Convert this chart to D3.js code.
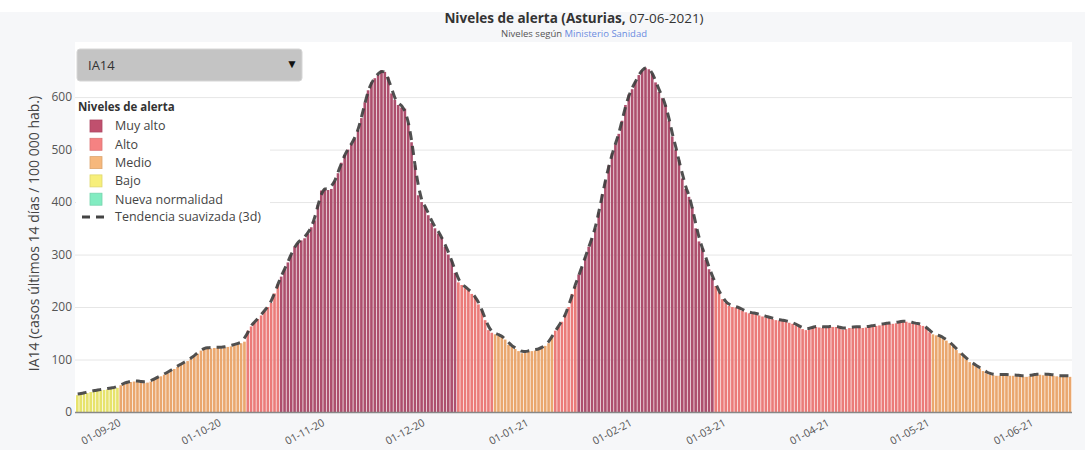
<!DOCTYPE html>
<html>
<head>
<meta charset="utf-8">
<script src="https://cdn.jsdelivr.net/npm/d3@7/dist/d3.min.js"></script>
<style>
  body { margin: 0; background: #fff; font-family: "Open Sans", sans-serif; }
  svg text { font-family: "Open Sans", sans-serif; }
</style>
</head>
<body>
<svg id="chart" width="1085" height="450"></svg>
<script>
// --- data (IA14, Asturias) ---
var firstDay = "2020-08-13";
var ia14 = [
  32,33,35,36,38,39,40,41,42,43,44,45,46,
  51,53,55,57,58,57,56,55,
  56,58,61,65,68,71,74,78,82,86,
  90,93,97,101,106,111,117,120,121,121,
  122,122,121,122,124,125,127,129,131,134,
  155,163,170,177,184,192,200,208,226,244,
  258,272,285,300,315,322,327,331,340,352,
  365,395,422,424,423,425,440,455,475,490,
  500,510,520,537,560,590,613,628,636,642,
  651,648,638,607,595,585,580,578,550,514,
  470,413,400,392,375,360,350,340,333,315,
  300,289,265,247,242,236,232,225,219,205,
  194,175,156,151,148,145,143,138,128,124,
  120,116,112,113,115,116,117,118,121,126,
  131,142,155,162,172,185,200,225,240,262,
  276,295,315,331,350,380,415,440,470,493,
  510,530,555,585,605,615,630,642,651,656,
  653,645,628,610,598,585,555,525,500,480,
  445,425,410,390,350,325,312,290,272,256,
  240,228,215,208,202,200,199,197,193,190,
  188,187,186,184,182,180,179,177,175,174,
  173,172,170,168,165,162,158,156,157,160,
  162,161,160,160,161,162,162,160,157,158,
  160,160,160,161,160,161,162,162,164,165,
  166,167,168,168,169,170,171,172,170,168,
  167,166,164,160,152,148,146,143,140,136,
  131,125,118,112,106,100,95,90,86,83,
  78,74,71,70,69,69,70,69,69,69,
  68,68,67,67,68,69,70,71,70,70,
  70,69,68,67,67,67,67
];
var levelNames = ["Muy alto", "Alto", "Medio", "Bajo", "Nueva normalidad"];
var levelMins  = [250, 150, 50, 25, 0];
var yTicks = [0, 100, 200, 300, 400, 500, 600];
var xTickDates = ["2020-09-01","2020-10-01","2020-11-01","2020-12-01","2021-01-01",
                  "2021-02-01","2021-03-01","2021-04-01","2021-05-01","2021-06-01"];

var barColors    = ["#ad4f6d", "#eb7b79", "#eaa76e", "#e7e36c", "#7fe3bb"];
var legendColors = ["#c0506e", "#f58282", "#f6b87c", "#f7ef7a", "#82ecc1"];

var parse = d3.timeParse("%Y-%m-%d");
var start = parse(firstDay);
var days = ia14.map(function(v, i) { return { date: d3.timeDay.offset(start, i), v: v, i: i }; });

function level(v) {
  for (var k = 0; k < levelMins.length; k++) if (v >= levelMins[k]) return k;
  return levelMins.length - 1;
}

// 3 day smoothed trend
days.forEach(function(d, i) {
  d.s = d3.mean(ia14.slice(Math.max(0, i - 1), Math.min(ia14.length, i + 2)));
});

var svg = d3.select("#chart");
var width = 1085, height = 450;
var margin = {left: 75, right: 13, top: 42, bottom: 38};

svg.append("rect").attr("x", 0).attr("y", 12).attr("width", width).attr("height", height - 12)
  .attr("fill", "#f6f7f9");
svg.append("rect").attr("x", margin.left).attr("y", margin.top)
  .attr("width", width - margin.left - margin.right)
  .attr("height", height - margin.top - margin.bottom)
  .attr("fill", "#fff");

var x = d3.scaleTime()
  .domain([start, d3.timeDay.offset(start, ia14.length)])
  .range([margin.left + 1, width - margin.right]);
var y = d3.scaleLinear()
  .domain([0, 705])
  .range([height - margin.bottom, margin.top]);

// grid
svg.append("g").selectAll("line").data(yTicks.slice(1)).enter().append("line")
  .attr("x1", margin.left).attr("x2", width - margin.right)
  .attr("y1", function(d) { return y(d) + 0.5; })
  .attr("y2", function(d) { return y(d) + 0.5; })
  .attr("stroke", "#e6e6e6").attr("stroke-width", 1);

// y axis labels
svg.append("g").selectAll("text").data(yTicks).enter().append("text")
  .attr("x", 72).attr("y", function(d) { return y(d); })
  .attr("dy", "0.35em").attr("text-anchor", "end")
  .attr("font-size", 12).attr("fill", "#555")
  .text(function(d) { return d; });

svg.append("text")
  .attr("transform", "translate(39," + y(340) + ") rotate(-90)")
  .attr("text-anchor", "middle").attr("font-size", 14).attr("fill", "#444")
  .text("IA14 (casos últimos 14 días / 100 000 hab.)");

// bars
svg.append("g").selectAll("rect").data(days).enter().append("rect")
  .attr("x", function(d) { return x(d.date); })
  .attr("width", function(d) { return x(d3.timeDay.offset(d.date, 1)) - x(d.date) - 0.7; })
  .attr("y", function(d) { return y(d.v); })
  .attr("height", function(d) { return y(0) - y(d.v); })
  .attr("fill", function(d) { return barColors[level(d.v)]; });

// trend
var line = d3.line()
  .x(function(d) { return x(d3.timeHour.offset(d.date, 12)); })
  .y(function(d) { return y(d.s) - 1; })
  .curve(d3.curveMonotoneX);
svg.append("path").datum(days)
  .attr("d", line)
  .attr("fill", "none").attr("stroke", "#3d3d3d")
  .attr("stroke-width", 3).attr("stroke-dasharray", "9,6")
  .attr("opacity", 0.9);

// x axis
svg.append("line")
  .attr("x1", margin.left).attr("x2", width - margin.right)
  .attr("y1", y(0) + 0.5).attr("y2", y(0) + 0.5)
  .attr("stroke", "#888").attr("stroke-width", 1.5);

var fmt = d3.timeFormat("%d-%m-%y");
svg.append("g").selectAll("text").data(xTickDates.map(parse)).enter().append("text")
  .attr("transform", function(d) { return "translate(" + (x(d) - 18) + "," + (y(0) + 13) + ") rotate(-28)"; })
  .attr("text-anchor", "end").attr("font-size", 10.5).attr("fill", "#555")
  .text(function(d) { return fmt(d); });

// title
var title = svg.append("text").attr("x", 574).attr("y", 23)
  .attr("text-anchor", "middle").attr("font-size", 13.5).attr("fill", "#333");
title.append("tspan").attr("font-weight", "bold").text("Niveles de alerta (Asturias,");
title.append("tspan").text(" 07-06-2021)");
var sub = svg.append("text").attr("x", 574).attr("y", 36.5)
  .attr("text-anchor", "middle").attr("font-size", 9.5).attr("fill", "#555");
sub.append("tspan").text("Niveles según ");
sub.append("tspan").attr("fill", "#6a8be0").text("Ministerio Sanidad");

// dropdown
svg.append("rect").attr("x", 77).attr("y", 49).attr("width", 225).attr("height", 32)
  .attr("rx", 3).attr("fill", "#c4c4c4").attr("stroke", "#d6d6d6");
svg.append("text").attr("x", 88).attr("y", 69.5).attr("font-size", 13).attr("fill", "#333").text("IA14");
svg.append("text").attr("x", 292).attr("y", 68).attr("text-anchor", "middle")
  .attr("font-size", 12).attr("fill", "#111").text("▼");

// legend
var lg = svg.append("g");
lg.append("rect").attr("x", 76).attr("y", 99).attr("width", 194).attr("height", 130).attr("fill", "#fff");
lg.append("text").attr("x", 78).attr("y", 111).attr("font-size", 11.5)
  .attr("font-weight", "bold").attr("fill", "#333").text("Niveles de alerta");
var item = lg.selectAll("g.item").data(levelNames).enter().append("g")
  .attr("class", "item")
  .attr("transform", function(d, i) { return "translate(0," + (126 + i * 18.3) + ")"; });
item.append("rect").attr("x", 90).attr("y", -6).attr("width", 12).attr("height", 12)
  .attr("fill", function(d, i) { return legendColors[i]; })
  .attr("stroke", function(d, i) { return d3.color(legendColors[i]).darker(0.3); })
  .attr("stroke-width", 0.8);
item.append("text").attr("x", 115).attr("dy", "0.35em").attr("font-size", 12.5)
  .attr("fill", "#444").text(function(d) { return d; });
lg.append("line").attr("x1", 82).attr("x2", 108).attr("y1", 217).attr("y2", 217)
  .attr("stroke", "#444").attr("stroke-width", 3).attr("stroke-dasharray", "8,6");
lg.append("text").attr("x", 115).attr("y", 217).attr("dy", "0.35em").attr("font-size", 12.5)
  .attr("fill", "#444").text("Tendencia suavizada (3d)");
</script>
</body>
</html>
